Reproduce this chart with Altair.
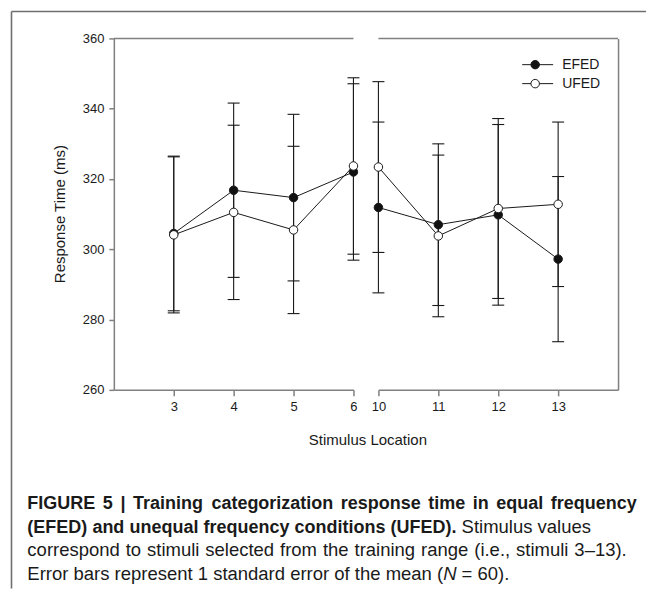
import altair as alt
import pandas as pd

# ---------------- data ----------------
locations = [3, 4, 5, 6, 10, 11, 12, 13]
series_names = ["EFED", "UFED"]
efed_mean = [304.5, 316.8, 314.7, 322.0, 311.9, 307.0, 309.8, 297.2]
efed_se = [22.0, 24.8, 23.7, 25.1, 24.3, 23.0, 25.7, 23.5]
ufed_mean = [304.1, 310.5, 305.5, 323.7, 323.4, 303.8, 311.6, 312.8]
ufed_se = [22.2, 24.8, 23.8, 25.1, 24.3, 23.0, 25.6, 23.4]
left_ticks = [3, 4, 5, 6]
right_ticks = [10, 11, 12, 13]
y_ticks = [260, 280, 300, 320, 340, 360]

x_title = "Stimulus Location"
y_title = "Response Time (ms)"
cap_line1 = "FIGURE 5 | Training categorization response time in equal frequency"
cap_line2_bold = "(EFED) and unequal frequency conditions (UFED)."
cap_line2_rest = "Stimulus values"
cap_line3 = "correspond to stimuli selected from the training range (i.e., stimuli 3\u201313)."
cap_line4_a = "Error bars represent 1 standard error of the mean"
cap_line4_n = "N"
cap_line4_b = "= 60)."

rows = []
for name, means, ses in [("EFED", efed_mean, efed_se), ("UFED", ufed_mean, ufed_se)]:
    for loc, m, s in zip(locations, means, ses):
        rows.append(dict(loc=loc, series=name, mean=m, lo=m - s, hi=m + s))
df = pd.DataFrame(rows)

# ---------------- style ----------------
FONT = "Liberation Sans"
INK = "#1a1a1a"
AXC = "#808080"
FR = "#6f6f6f"
W = 240
H = 352
one = pd.DataFrame({"a": [0]})

# Arial / Liberation Sans advance widths (per 1000 em) for caption layout
_REG = dict(zip("abcdefghijklmnopqrstuvwxyz",
                [556, 556, 500, 556, 556, 278, 556, 556, 222, 222, 500, 222, 833,
                 556, 556, 556, 556, 333, 500, 278, 556, 500, 722, 500, 500, 500]))
_REG.update(dict(zip("ABCDEFGHIJKLMNOPQRSTUVWXYZ",
                     [667, 667, 722, 722, 667, 611, 778, 722, 278, 500, 667, 556, 833,
                      722, 778, 667, 778, 722, 667, 611, 722, 667, 944, 667, 667, 611])))
_REG.update({" ": 278, "(": 333, ")": 333, ".": 278, ",": 278, "|": 260,
             "\u2013": 556, "=": 584})
_BOLD = dict(zip("abcdefghijklmnopqrstuvwxyz",
                 [556, 611, 556, 611, 556, 333, 611, 611, 278, 278, 556, 278, 889,
                  611, 611, 611, 611, 389, 556, 333, 611, 556, 778, 556, 556, 500]))
_BOLD.update(dict(zip("ABCDEFGHIJKLMNOPQRSTUVWXYZ",
                      [722, 722, 722, 722, 667, 611, 778, 722, 278, 556, 722, 611, 833,
                       722, 778, 667, 778, 722, 667, 611, 722, 667, 944, 667, 667, 611])))
_BOLD.update({" ": 278, "(": 333, ")": 333, ".": 278, ",": 278, "|": 280,
              "\u2013": 556, "=": 584})

CS_REG = 18.5
CS_BOLD = 18


def fsize(weight):
    return CS_BOLD if weight == "bold" else CS_REG


def text_width(s, bold, size):
    tbl = _BOLD if bold else _REG
    return sum(tbl.get(c, 556) for c in s) * size / 1000.0


def txt(text, x, y, size=13, weight="normal", style="normal", align="left",
        angle=0, baseline="alphabetic"):
    return alt.Chart(one).mark_text(
        text=text, font=FONT, fontSize=size, fontWeight=weight, fontStyle=style,
        align=align, baseline=baseline, angle=angle, color=INK
    ).encode(x=alt.value(x), y=alt.value(y))


def words_of(s, weight="normal", style="normal"):
    return [[(w, weight, style)] for w in s.split()]


def line_marks(words, x0, y, x1=None):
    widths = [sum(text_width(t, wt == "bold", fsize(wt)) for t, wt, st in wd)
              for wd in words]
    if x1 is None:
        gap = text_width(" ", False, CS_REG)
    else:
        gap = (x1 - x0 - sum(widths)) / (len(words) - 1)
    marks = []
    x = x0
    for wd, wdt in zip(words, widths):
        xx = x
        for t, wt, st in wd:
            marks.append(txt(t, xx, y, size=fsize(wt), weight=wt, style=st))
            xx += text_width(t, wt == "bold", fsize(wt))
        x += wdt + gap
    return marks


def panel(data, domain, ticks, side):
    xs = alt.Scale(domain=domain, nice=False, zero=False)
    ys = alt.Scale(domain=[260, 360], nice=False, zero=False)
    xax = alt.Axis(values=ticks, tickSize=6, labelPadding=5, labelFlush=False,
                   title=None, labelFontSize=13)
    if side == "left":
        yax = alt.Axis(values=y_ticks, tickSize=5, labelPadding=5, title=None,
                       labelFontSize=13)
    else:
        yax = alt.Axis(orient="right", labels=False, ticks=False, title=None)
    base = alt.Chart(data)
    x = alt.X("loc:Q", scale=xs, axis=xax)
    bars = base.mark_rule(color=INK, strokeWidth=1.1).encode(
        x=x, y=alt.Y("lo:Q", scale=ys, axis=yax), y2="hi:Q")
    cap_hi = base.mark_rule(color=INK, strokeWidth=1.1, xOffset=-6, x2Offset=6).encode(
        x=x, x2="loc:Q", y=alt.Y("hi:Q", scale=ys, axis=yax))
    cap_lo = base.mark_rule(color=INK, strokeWidth=1.1, xOffset=-6, x2Offset=6).encode(
        x=x, x2="loc:Q", y=alt.Y("lo:Q", scale=ys, axis=yax))
    lines = base.mark_line(color=INK, strokeWidth=1).encode(
        x=x, y=alt.Y("mean:Q", scale=ys, axis=yax), detail="series:N")
    pts = base.mark_point(filled=True, size=72, shape="circle", stroke=INK,
                          strokeWidth=1, opacity=1).encode(
        x=x, y=alt.Y("mean:Q", scale=ys, axis=yax),
        fill=alt.Fill("series:N", scale=alt.Scale(domain=series_names,
                                                   range=["#111111", "#ffffff"]),
                      legend=None))
    top = alt.Chart(one).mark_rule(color=AXC, strokeWidth=1.5).encode(
        x=alt.value(0), x2=alt.value(W), y=alt.value(0))
    return [top, bars, cap_hi, cap_lo, lines, pts]


left_layers = panel(df[df["loc"] <= 6], [2, 6], left_ticks, "left")
right_layers = panel(df[df["loc"] >= 10], [10, 14], right_ticks, "right")

# figure frame (left and top border of the figure box)
frame_left = alt.Chart(one).mark_rule(color=FR, strokeWidth=1.6).encode(
    x=alt.value(-102.5), y=alt.value(-27), y2=alt.value(551))
frame_top = alt.Chart(one).mark_rule(color=FR, strokeWidth=1.6).encode(
    x=alt.value(-102.5), x2=alt.value(533), y=alt.value(-27))

titles = [
    txt(x_title, 254.5, 407, size=15, align="center"),
    txt(y_title, -54, 176, size=15, align="center", angle=270, baseline="middle"),
]

# caption (coordinates relative to the left plot area)
X0 = -86.6
l1 = words_of(cap_line1, "bold")
l2 = words_of(cap_line2_bold, "bold") + words_of(cap_line2_rest)
l3 = words_of(cap_line3)
l4 = words_of(cap_line4_a) + [[("(", "normal", "normal"), (cap_line4_n, "normal", "italic")]] \
    + words_of(cap_line4_b)
caption = (line_marks(l1, X0, 471.3, x1=523.7)
           + line_marks(l2, X0, 495)
           + line_marks(l3, X0, 518.7, x1=513.7)
           + line_marks(l4, X0, 542.4))

# legend (drawn inside right panel)
legend_layers = []
for i, name in enumerate(series_names):
    yy = 26.3 + 19 * i
    fill = "#111111" if i == 0 else "#ffffff"
    legend_layers.append(alt.Chart(one).mark_rule(color=INK, strokeWidth=1).encode(
        x=alt.value(144), x2=alt.value(175), y=alt.value(yy)))
    legend_layers.append(alt.Chart(one).mark_point(
        filled=True, size=72, shape="circle", stroke=INK, strokeWidth=1,
        fill=fill, opacity=1).encode(x=alt.value(157), y=alt.value(yy)))
    legend_layers.append(txt(name, 184, yy, size=14, baseline="middle"))

left = alt.layer(frame_left, frame_top, *left_layers, *titles, *caption).properties(
    width=W, height=H)
right = alt.layer(*right_layers, *legend_layers).properties(width=W, height=H)

chart = alt.hconcat(left, right, spacing=25, bounds="flush").resolve_scale(
    x="independent"
).properties(
    padding={"left": 2, "top": 2, "right": 0, "bottom": 0}
).configure_view(stroke=None).configure_axis(
    labelFont=FONT, labelColor=INK, domainColor=AXC, tickColor=AXC,
    domainWidth=1.5, tickWidth=1.5, grid=False
)

chart.save("out.html", embed_options={"renderer": "svg", "actions": False})
